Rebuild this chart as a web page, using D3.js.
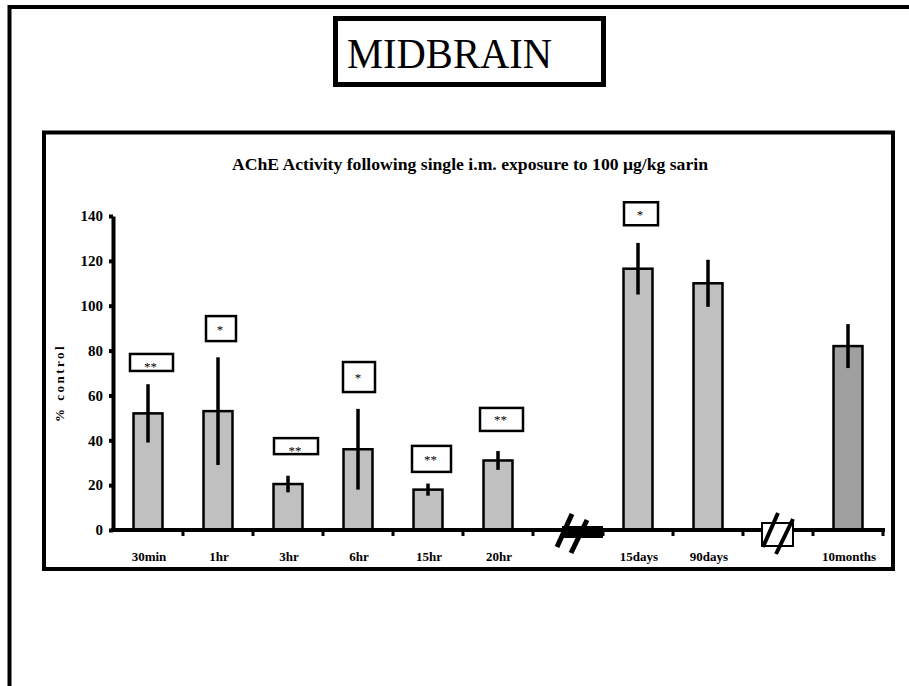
<!DOCTYPE html>
<html>
<head>
<meta charset="utf-8">
<script src="https://cdn.jsdelivr.net/npm/d3@7"></script>
<style>
  body { margin: 0; background: #fff; }
</style>
</head>
<body>
<div class="chart"></div>
<script>
var serif = "'Liberation Serif', 'Times New Roman', Tinos, 'DejaVu Serif', serif"

// categories along the x axis (brk = axis break)
var categories = ["30min", "1hr", "3hr", "6hr", "15hr", "20hr", "brk1", "15days", "90days", "brk2", "10months"];
var labels = ["30min", "1hr", "3hr", "6hr", "15hr", "20hr", "", "15days", "90days", "", "10months"];
// % control values and error bars
var barCats = ["30min", "1hr", "3hr", "6hr", "15hr", "20hr", "15days", "90days", "10months"];
var values = [52, 53, 20.5, 36, 18, 31, 116.5, 110, 82];
var errors = [13, 24, 3.7, 18, 2.7, 4.2, 11.5, 10.5, 9.8];
var yTicks = [0, 20, 40, 60, 80, 100, 120, 140];
// significance marks: category, label, level of box centre (% control)
var sigCats = ["30min", "1hr", "3hr", "6hr", "15hr", "20hr", "15days"];
var sigLabels = ["**", "*", "**", "*", "**", "**", "*"];
var sigLevel = [74.7, 89.8, 37.4, 68.2, 31.7, 49.3, 141];

// layout of the little boxes round the stars (pixels)
var sigBox = [
    { dx: 3.5, w: 43, h: 17, textDy: 9 },
    { dx: 3, w: 30, h: 25, textDy: 5 },
    { dx: 8, w: 44, h: 16, textDy: 9 },
    { dx: 1, w: 32, h: 30, textDy: 5 },
    { dx: 3.5, w: 39, h: 26, textDy: 5 },
    { dx: 3.5, w: 43, h: 23, textDy: 5 },
    { dx: 3, w: 34, h: 23, textDy: 5 }
];

var svg = d3.select(".chart")
    .append("svg")
    .attr("width", 909)
    .attr("height", 686)
    .attr("font-family", serif)

// outer frame
svg.append("rect")
    .attr("x", 9.5)
    .attr("y", 7)
    .attr("width", 920)
    .attr("height", 700)
    .attr("fill", "none")
    .style("stroke", "black")
    .style("stroke-width", 4)

// MIDBRAIN header box
svg.append("rect")
    .attr("x", 335.5)
    .attr("y", 18.5)
    .attr("width", 268)
    .attr("height", 66)
    .attr("fill", "white")
    .style("stroke", "black")
    .style("stroke-width", 5)

svg.append("text")
    .attr("x", 449.5)
    .attr("y", 68)
    .attr("text-anchor", "middle")
    .attr("textLength", 205)
    .attr("lengthAdjust", "spacingAndGlyphs")
    .attr("font-family", serif)
    .style("font-size", "42px")
    .text("MIDBRAIN")

// chart frame
svg.append("rect")
    .attr("x", 44)
    .attr("y", 132.5)
    .attr("width", 849)
    .attr("height", 436.5)
    .attr("fill", "none")
    .style("stroke", "black")
    .style("stroke-width", 4)

svg.append("text")
    .attr("x", 470)
    .attr("y", 170)
    .attr("text-anchor", "middle")
    .attr("textLength", 476)
    .attr("lengthAdjust", "spacingAndGlyphs")
    .attr("font-family", serif)
    .style("font-size", "16px")
    .style("font-weight", "bold")
    .text("AChE Activity following single i.m. exposure to 100 \u03bcg/kg sarin")

var x = d3.scaleBand()
    .domain(categories)
    .range([113, 883])
    .paddingInner(0)
    .paddingOuter(0)

var y = d3.scaleLinear()
    .domain([0, 140])
    .range([530, 216])

var barW = x.bandwidth() * 0.414

// bars
barCats.forEach(function (c, i) {
    var cx = x(c) + x.bandwidth() / 2
    svg.append("rect")
        .attr("x", cx - barW / 2)
        .attr("y", y(values[i]))
        .attr("width", barW)
        .attr("height", y(0) - y(values[i]))
        .attr("fill", c == "10months" ? "#a0a0a0" : "#c0c0c0")
        .style("stroke", "black")
        .style("stroke-width", 2.5)

    svg.append("line")
        .attr("x1", cx)
        .attr("x2", cx)
        .attr("y1", y(values[i] + errors[i]))
        .attr("y2", y(values[i] - errors[i]))
        .style("stroke", "black")
        .style("stroke-width", 3.5)
})

// y axis
var yAxis = svg.append("g")
    .attr("transform", "translate(113,0)")
    .call(d3.axisLeft(y).tickValues(yTicks).tickSize(4).tickSizeOuter(0))
yAxis.attr("font-family", serif)
yAxis.select(".domain").style("stroke-width", 4)
yAxis.selectAll(".tick line").style("stroke-width", 4)
yAxis.selectAll(".tick text")
    .attr("x", -10)
    .attr("font-family", serif)
    .style("font-size", "15px")
    .style("font-weight", "bold")
    .attr("fill", "black")

svg.append("text")
    .attr("transform", "translate(64,383) rotate(-90)")
    .attr("text-anchor", "middle")
    .attr("font-family", serif)
    .style("font-size", "13px")
    .style("font-weight", "bold")
    .style("letter-spacing", "2.5px")
    .text("% control")

// x axis
svg.append("line")
    .attr("x1", 111)
    .attr("x2", 885)
    .attr("y1", 530)
    .attr("y2", 530)
    .style("stroke", "black")
    .style("stroke-width", 4)

categories.forEach(function (c, i) {
    var bx = x(c) + x.bandwidth()
    svg.append("line")
        .attr("x1", bx)
        .attr("x2", bx)
        .attr("y1", 530)
        .attr("y2", 536)
        .style("stroke", "black")
        .style("stroke-width", 3)

    if (labels[i] != "") {
        svg.append("text")
            .attr("x", x(c) + x.bandwidth() / 2 + 1)
            .attr("y", 561)
            .attr("text-anchor", "middle")
            .attr("font-family", serif)
            .style("font-size", "13px")
            .style("font-weight", "bold")
            .text(labels[i])
    }
})

// axis breaks
var b1 = x("brk1") + x.bandwidth() / 2
svg.append("rect")
    .attr("x", b1 - 6)
    .attr("y", 526)
    .attr("width", 41)
    .attr("height", 12)
    .attr("fill", "black")
svg.append("line")
    .attr("x1", b1 - 11).attr("y1", 547)
    .attr("x2", b1 + 4).attr("y2", 514)
    .style("stroke", "black").style("stroke-width", 5)
svg.append("line")
    .attr("x1", b1 + 3).attr("y1", 553)
    .attr("x2", b1 + 19).attr("y2", 520)
    .style("stroke", "black").style("stroke-width", 5)

var b2 = x("brk2") + x.bandwidth() / 2
svg.append("rect")
    .attr("x", b2 - 16)
    .attr("y", 523)
    .attr("width", 31)
    .attr("height", 23)
    .attr("fill", "white")
    .style("stroke", "black")
    .style("stroke-width", 2)
svg.append("line")
    .attr("x1", b2 - 15).attr("y1", 547)
    .attr("x2", b2).attr("y2", 513)
    .style("stroke", "black").style("stroke-width", 4)
svg.append("line")
    .attr("x1", b2 - 2).attr("y1", 554)
    .attr("x2", b2 + 15).attr("y2", 519)
    .style("stroke", "black").style("stroke-width", 4)

// significance boxes
sigCats.forEach(function (c, i) {
    var b = sigBox[i]
    var cx = x(c) + x.bandwidth() / 2 + b.dx
    var cy = y(sigLevel[i])
    svg.append("rect")
        .attr("x", cx - b.w / 2)
        .attr("y", cy - b.h / 2)
        .attr("width", b.w)
        .attr("height", b.h)
        .attr("fill", "white")
        .style("stroke", "black")
        .style("stroke-width", 2.5)

    svg.append("text")
        .attr("x", cx - 1)
        .attr("y", cy + b.textDy)
        .attr("text-anchor", "middle")
        .attr("font-family", serif)
        .style("font-size", "13px")
        .text(sigLabels[i])
})
</script>
</body>
</html>
